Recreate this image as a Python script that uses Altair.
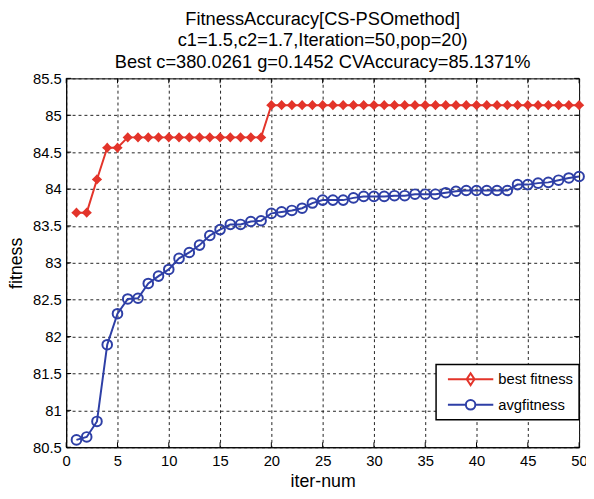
import altair as alt
import pandas as pd

# ---------------- data ----------------
iters = list(range(1, 51))
best_fitness = [83.68, 83.68, 84.13, 84.56, 84.56, 84.70, 84.70, 84.70, 84.70, 84.70,
                84.70, 84.70, 84.70, 84.70, 84.70, 84.70, 84.70, 84.70, 84.70, 85.137,
                85.137, 85.137, 85.137, 85.137, 85.137, 85.137, 85.137, 85.137, 85.137, 85.137,
                85.137, 85.137, 85.137, 85.137, 85.137, 85.137, 85.137, 85.137, 85.137, 85.137,
                85.137, 85.137, 85.137, 85.137, 85.137, 85.137, 85.137, 85.137, 85.137, 85.137]
avg_fitness = [80.60, 80.64, 80.85, 81.89, 82.31, 82.51, 82.52, 82.72, 82.82, 82.91,
               83.06, 83.14, 83.24, 83.37, 83.45, 83.52, 83.52, 83.56, 83.57, 83.67,
               83.69, 83.71, 83.74, 83.81, 83.85, 83.85, 83.85, 83.88, 83.90, 83.90,
               83.90, 83.91, 83.91, 83.93, 83.93, 83.93, 83.95, 83.97, 83.98, 83.98,
               83.98, 83.98, 83.98, 84.06, 84.06, 84.08, 84.09, 84.12, 84.15, 84.17]
series_names = ["best fitness", "avgfitness"]
x_ticks = [0, 5, 10, 15, 20, 25, 30, 35, 40, 45, 50]
y_ticks = [80.5, 81, 81.5, 82, 82.5, 83, 83.5, 84, 84.5, 85, 85.5]
title_lines = ["FitnessAccuracy[CS-PSOmethod]",
               "c1=1.5,c2=1.7,Iteration=50,pop=20)",
               "Best c=380.0261 g=0.1452 CVAccuracy=85.1371%"]

rows = []
for i, b, a in zip(iters, best_fitness, avg_fitness):
    rows.append({"iter": i, "value": b, "series": series_names[0]})
    rows.append({"iter": i, "value": a, "series": series_names[1]})
df = pd.DataFrame(rows)
df_best = df[df.series == series_names[0]]
df_avg = df[df.series == series_names[1]]
xt = pd.DataFrame({"t": x_ticks})
yt = pd.DataFrame({"t": y_ticks})

# ---------------- style ----------------
RED = "#e3342a"
BLUE = "#2e3fa6"
FONT = "Liberation Sans"
W, H = 520, 374

xscale = alt.Scale(domain=[0, 50], nice=False, zero=False)
yscale = alt.Scale(domain=[80.5, 85.5], nice=False, zero=False)
xaxis = alt.Axis(values=x_ticks, title="iter-num", labelFlush=False, labelPadding=6,
                 titlePadding=5, format="~g")
yaxis = alt.Axis(values=y_ticks, title="fitness", labelFlush=False, labelPadding=5,
                 titlePadding=7, format="~g")

X = alt.X("iter:Q", scale=xscale, axis=xaxis)
Y = alt.Y("value:Q", scale=yscale, axis=yaxis)

star = "M0,-1L0.5,-0.45L1,0L0.5,0.45L0,1L-0.5,0.45L-1,0L-0.5,-0.45Z"
# legend symbols (unit = 8 px since symbolSize = 256)
leg_red = ("M-2.875,0L2.875,0M0,-0.75L0.3,-0.3L0.5,0L0.3,0.3L0,0.75"
           "L-0.3,0.3L-0.5,0L-0.3,-0.3Z")
leg_blue = ("M-2.875,0L-0.6,0M0.6,0L2.875,0M0.6,0A0.6,0.6 0 1,1 -0.6,0"
            "A0.6,0.6 0 1,1 0.6,0Z")

red_line = alt.Chart(df_best).mark_line(color=RED, strokeWidth=2).encode(x=X, y=Y)
red_pts = alt.Chart(df_best).mark_point(shape=star, filled=True, color=RED, size=110,
                                        opacity=1).encode(x=X, y=Y)
blue_line = alt.Chart(df_avg).mark_line(color=BLUE, strokeWidth=2).encode(x=X, y=Y)
blue_pts = alt.Chart(df_avg).mark_point(shape="circle", filled=False, color=BLUE, size=95,
                                        strokeWidth=2, opacity=1).encode(x=X, y=Y)

legend_def = alt.Legend(title=None, orient="none", legendX=375, legendY=290,
                        symbolSize=256, symbolStrokeWidth=2, symbolOffset=20,
                        labelFont=FONT, labelFontSize=15, labelColor="black",
                        labelOffset=19, padding=6, rowPadding=7,
                        strokeColor="black", fillColor="white")
legend_layer = alt.Chart(df).mark_point(opacity=0, filled=True).encode(
    x=X, y=Y,
    shape=alt.Shape("series:N", scale=alt.Scale(domain=series_names, range=[leg_red, leg_blue]),
                    legend=legend_def),
    stroke=alt.Stroke("series:N", scale=alt.Scale(domain=series_names, range=[RED, BLUE]),
                      legend=legend_def),
    fill=alt.Fill("series:N", scale=alt.Scale(domain=series_names, range=[RED, "white"]),
                  legend=legend_def),
)

XT = alt.X("t:Q", scale=xscale, axis=xaxis)
YT = alt.Y("t:Q", scale=yscale, axis=yaxis)
tick_bottom = alt.Chart(xt).mark_rule(color="black", strokeWidth=1).encode(
    x=XT, y=alt.value(H), y2=alt.value(H - 5))
tick_top = alt.Chart(xt).mark_rule(color="black", strokeWidth=1).encode(
    x=XT, y=alt.value(0), y2=alt.value(5))
tick_left = alt.Chart(yt).mark_rule(color="black", strokeWidth=1).encode(
    y=YT, x=alt.value(0), x2=alt.value(5))
tick_right = alt.Chart(yt).mark_rule(color="black", strokeWidth=1).encode(
    y=YT, x=alt.value(W), x2=alt.value(W - 5))

chart = alt.layer(
    tick_bottom, tick_top, tick_left, tick_right,
    red_line, blue_line, red_pts, blue_pts, legend_layer
).properties(
    width=W, height=H,
    title=alt.TitleParams(text=title_lines, font=FONT, fontSize=18.5, fontWeight="normal",
                          color="black", lineHeight=22, anchor="middle", offset=0),
    autosize=alt.AutoSizeParams(type="none"),
    padding={"left": 59, "top": 68, "right": 7, "bottom": 40},
).configure_view(
    stroke="black", strokeWidth=1
).configure_axis(
    labelFont=FONT, labelFontSize=15, labelColor="black",
    titleFont=FONT, titleFontSize=18, titleFontWeight="normal", titleColor="black",
    domainColor="black", domainWidth=1, ticks=False,
    grid=True, gridColor="#222222", gridDash=[3, 3], gridWidth=1, gridOpacity=1,
    labelOverlap=False,
).configure_legend(
    strokeWidth=1.5
)

chart.save("out.html", embed_options={"renderer": "svg", "actions": False})
